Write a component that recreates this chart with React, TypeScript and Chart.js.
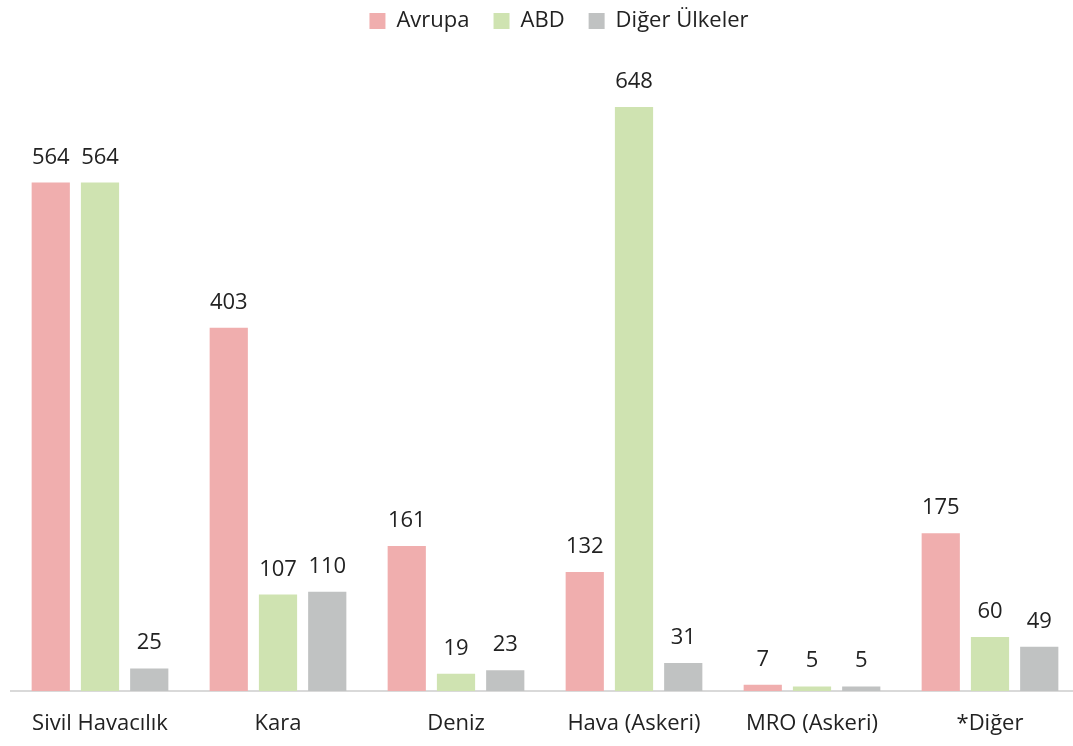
import React, { useEffect, useRef } from "react";
import { Chart, registerables } from "chart.js";

Chart.register(...registerables);

const categories = ["Sivil Havacılık", "Kara", "Deniz", "Hava (Askeri)", "MRO (Askeri)", "*Diğer"];
const avrupa = [564, 403, 161, 132, 7, 175];
const abd = [564, 107, 19, 648, 5, 60];
const digerUlkeler = [25, 110, 23, 31, 5, 49];
const seriesNames = ["Avrupa", "ABD", "Diğer Ülkeler"];
const colors = ["#f0aeae", "#cfe3b1", "#c0c2c2"];
const yMax = 720;

const FONT = "'Open Sans', 'Noto Sans', sans-serif";

const labelPlugin = {
  id: "barLabels",
  afterDatasetsDraw(chart: any) {
    const ctx = chart.ctx;
    ctx.save();
    ctx.font = `22px ${FONT}`;
    ctx.fillStyle = "#222222";
    ctx.textAlign = "center";
    ctx.textBaseline = "alphabetic";
    chart.data.datasets.forEach((ds: any, i: number) => {
      const meta = chart.getDatasetMeta(i);
      meta.data.forEach((bar: any, j: number) => {
        ctx.fillText(String(ds.data[j]), bar.x, bar.y - 19);
      });
    });
    ctx.restore();
  },
};

const legendShift = {
  id: "legendShift",
  afterLayout(chart: any) {
    const lg = chart.legend;
    if (lg) {
      lg.left += 14;
      lg.right += 14;
    }
  },
};

export default function App() {
  const ref = useRef<HTMLCanvasElement | null>(null);
  useEffect(() => {
    if (!ref.current) return;
    const chart = new Chart(ref.current, {
      type: "bar",
      data: {
        labels: categories,
        datasets: [avrupa, abd, digerUlkeler].map((d, i) => ({
          label: seriesNames[i],
          data: d,
          backgroundColor: colors[i],
          categoryPercentage: 0.83,
          barPercentage: 0.776,
        })),
      },
      options: {
        animation: false,
        responsive: false,
        layout: { padding: { left: 11, right: 0, top: -14, bottom: 0 } },
        plugins: {
          legend: {
            position: "top",
            labels: {
              boxWidth: 16,
              boxHeight: 16,
              color: "#222222",
              font: { family: FONT, size: 22 },
              padding: 24,
            },
          },
          tooltip: { enabled: false },
        },
        scales: {
          x: {
            grid: { display: false, drawTicks: false },
            border: { display: true, color: "#d9d9d9", width: 2 },
            ticks: { color: "#222222", font: { family: FONT, size: 22 }, padding: 20, maxRotation: 0, autoSkip: false },
            afterFit(scale: any) {
              scale.height = 55;
            },
          },
          y: {
            display: false,
            min: 0,
            max: yMax,
          },
        },
      },
      plugins: [labelPlugin, legendShift],
    });
    return () => chart.destroy();
  }, []);
  return (
    <div style={{ position: "absolute", left: 0, top: 0, width: 1073, height: 746, overflow: "hidden" }}>
      <canvas ref={ref} width={1079} height={746} />
    </div>
  );
}
